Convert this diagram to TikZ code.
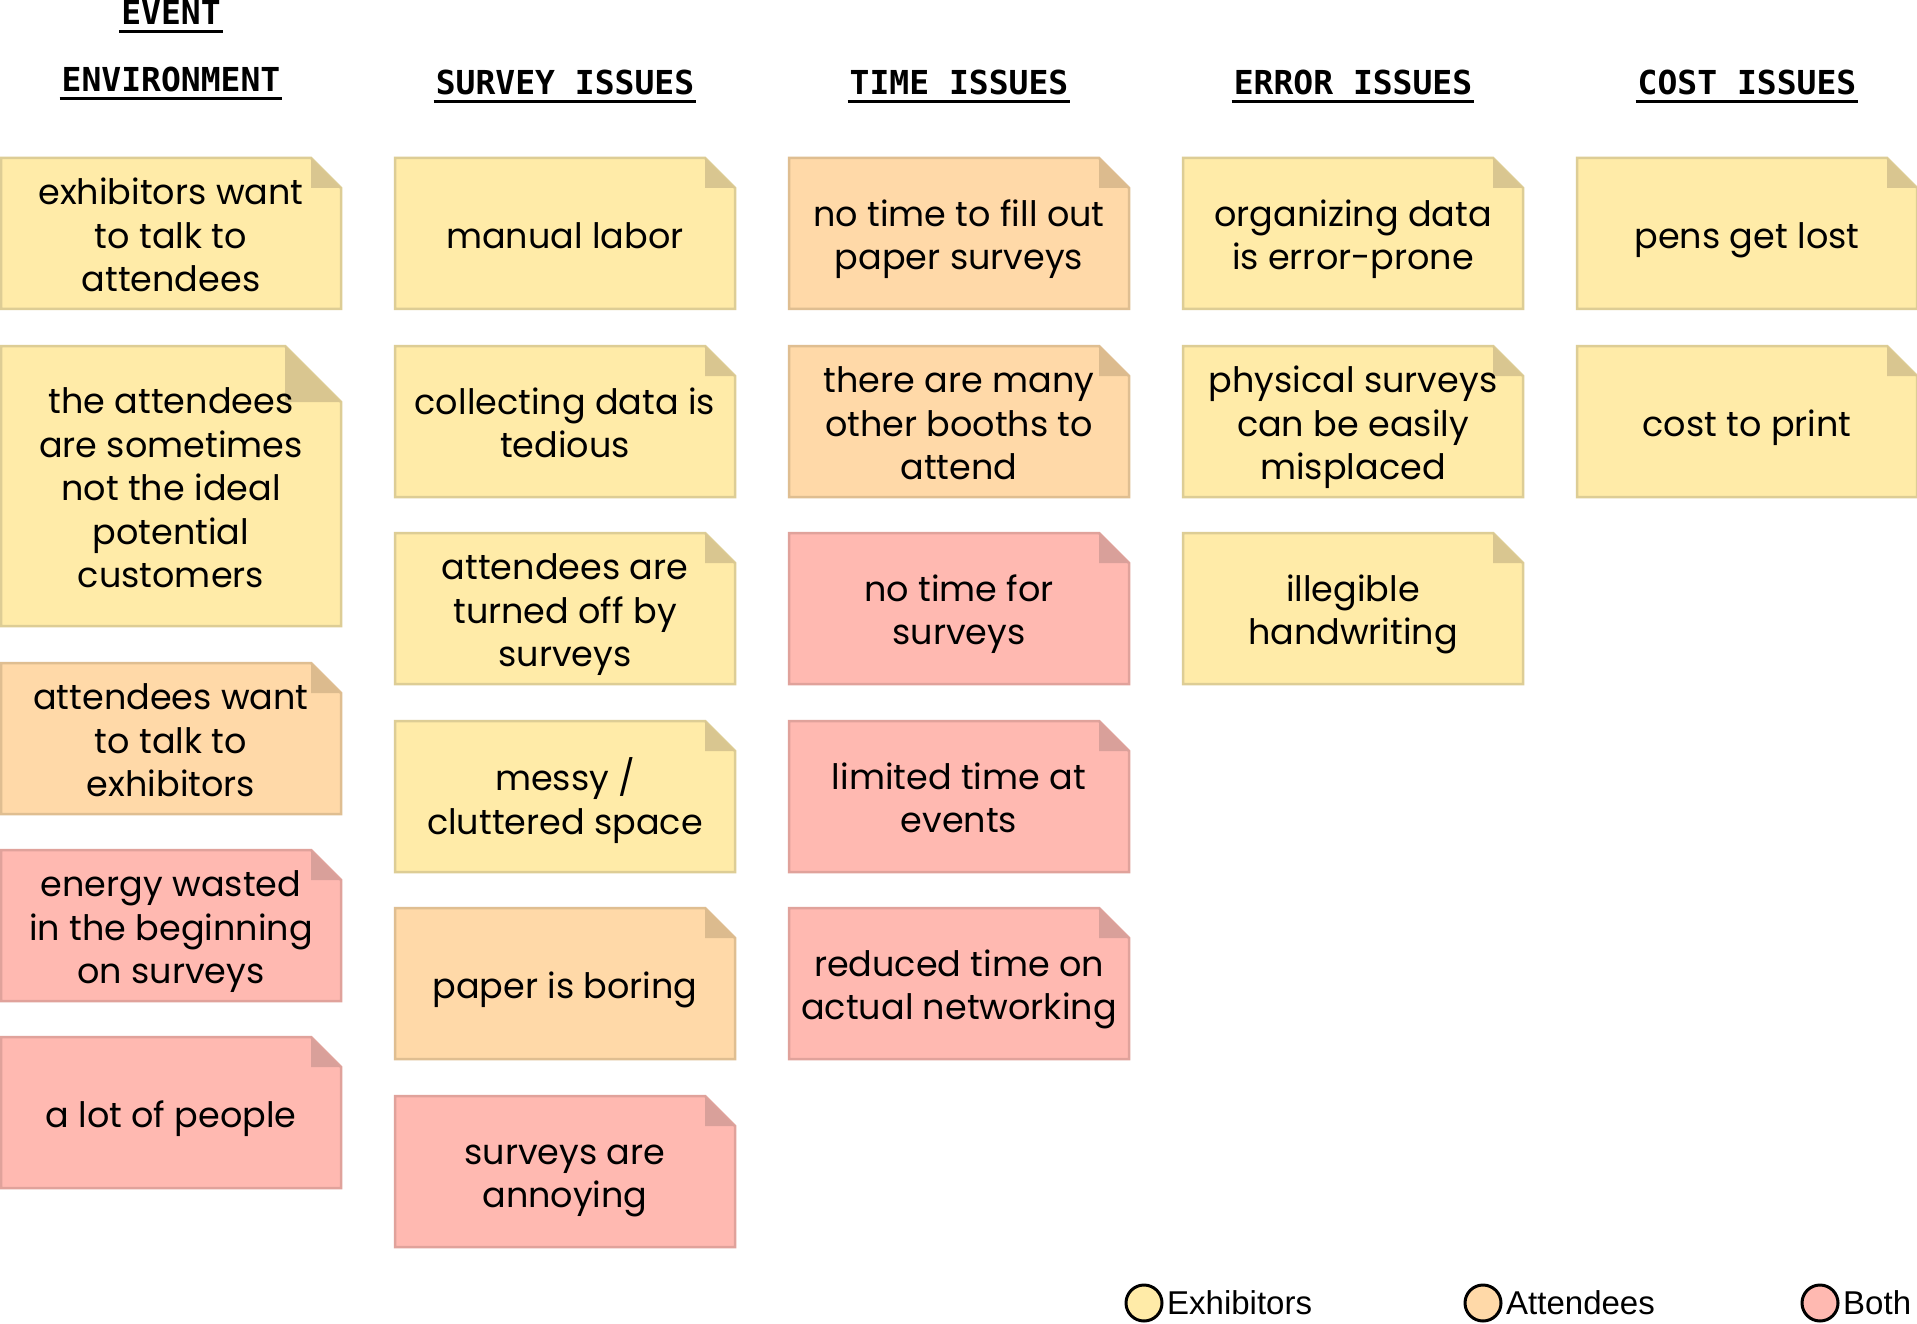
\documentclass[tikz,border=0pt]{standalone}
\usepackage{fontspec}
\setmainfont{Poppins}
\newfontfamily\hdrfont{DejaVu Sans Mono}
\newfontfamily\legfont{Liberation Sans}
\definecolor{yfill}{HTML}{FFEBA8}
\definecolor{yline}{HTML}{DDCD95}
\definecolor{yfold}{HTML}{D9C690}
\definecolor{ofill}{HTML}{FFD9A8}
\definecolor{oline}{HTML}{DFBE91}
\definecolor{ofold}{HTML}{DCBB8E}
\definecolor{pfill}{HTML}{FFB9B1}
\definecolor{pline}{HTML}{E0A29B}
\definecolor{pfold}{HTML}{D9A09A}
\tikzset{
  notetext/.style={font=\fontsize{35}{43.4}\selectfont, align=center, inner sep=0pt},
  hdr/.style={font=\hdrfont\bfseries\fontsize{33}{36}\selectfont, inner sep=0pt, anchor=base},
  hline/.style={line width=3pt},
  legdot/.style={circle, draw=black, line width=3pt, minimum size=36pt, inner sep=0pt},
  legtext/.style={font=\legfont\fontsize{33}{36}\selectfont, anchor=west, inner sep=0pt},
}
\newcommand{\stickynote}[7]{%
  \filldraw[fill=#6fill, draw=#6line, line width=2.5pt, line join=miter]
    (#2,#3) -- (#2+340-#5,#3) -- (#2+340,#3+#5) -- (#2+340,#3+#4) -- (#2,#3+#4) -- cycle;
  \fill[#6fold] (#2+340-#5,#3) -- (#2+340-#5,#3+#5) -- (#2+340,#3+#5) -- cycle;
  \node[notetext] (#1) at (#2+170,#3+#4/2+6) {\strut #7\strut};
}
\begin{document}
\begin{tikzpicture}[x=1pt,y=-1pt]
\useasboundingbox (0,0) rectangle (1917,1324);
\fill[white] (0,0) rectangle (1917,1324);
% headers
\node[hdr] (hEvent) at (171,25) {EVENT};
\node[hdr] (hEnv) at (171,92) {ENVIRONMENT};
\node[hdr] (hSurvey) at (565,95) {SURVEY ISSUES};
\node[hdr] (hTime) at (959,95) {TIME ISSUES};
\node[hdr] (hError) at (1353,95) {ERROR ISSUES};
\node[hdr] (hCost) at (1747,95) {COST ISSUES};
\foreach \h in {hEvent,hEnv,hSurvey,hTime,hError,hCost}{
  \draw[hline] ([xshift=-2pt,yshift=-7pt]\h.base west) -- ([xshift=2pt,yshift=-7pt]\h.base east);
}
% column 1
\stickynote{e1}{1}{158}{151}{30}{y}{exhibitors want\\to talk to\\attendees}
\stickynote{e2}{1}{346}{280}{56}{y}{the attendees\\are sometimes\\not the ideal\\potential\\customers}
\stickynote{e3}{1}{663}{151}{30}{o}{attendees want\\to talk to\\exhibitors}
\stickynote{e4}{1}{850}{151}{30}{p}{energy wasted\\in the beginning\\on surveys}
\stickynote{e5}{1}{1037}{151}{30}{p}{a lot of people}
% column 2
\stickynote{s1}{395}{158}{151}{30}{y}{manual labor}
\stickynote{s2}{395}{346}{151}{30}{y}{collecting data is\\tedious}
\stickynote{s3}{395}{533}{151}{30}{y}{attendees are\\turned off by\\surveys}
\stickynote{s4}{395}{721}{151}{30}{y}{messy /\\cluttered space}
\stickynote{s5}{395}{908}{151}{30}{o}{paper is boring}
\stickynote{s6}{395}{1096}{151}{30}{p}{surveys are\\annoying}
% column 3
\stickynote{t1}{789}{158}{151}{30}{o}{no time to fill out\\paper surveys}
\stickynote{t2}{789}{346}{151}{30}{o}{there are many\\other booths to\\attend}
\stickynote{t3}{789}{533}{151}{30}{p}{no time for\\surveys}
\stickynote{t4}{789}{721}{151}{30}{p}{limited time at\\events}
\stickynote{t5}{789}{908}{151}{30}{p}{reduced time on\\actual networking}
% column 4
\stickynote{r1}{1183}{158}{151}{30}{y}{organizing data\\is error-prone}
\stickynote{r2}{1183}{346}{151}{30}{y}{physical surveys\\can be easily\\misplaced}
\stickynote{r3}{1183}{533}{151}{30}{y}{illegible\\handwriting}
% column 5
\stickynote{c1}{1577}{158}{151}{30}{y}{pens get lost}
\stickynote{c2}{1577}{346}{151}{30}{y}{cost to print}
% legend
\node[legdot, fill=yfill] (lgY) at (1144,1303) {};
\node[legtext] (lgYt) at (1167,1303) {Exhibitors};
\node[legdot, fill=ofill] (lgO) at (1483,1303) {};
\node[legtext] (lgOt) at (1506,1303) {Attendees};
\node[legdot, fill=pfill] (lgP) at (1820,1303) {};
\node[legtext] (lgPt) at (1843,1303) {Both};
\end{tikzpicture}
\end{document}
